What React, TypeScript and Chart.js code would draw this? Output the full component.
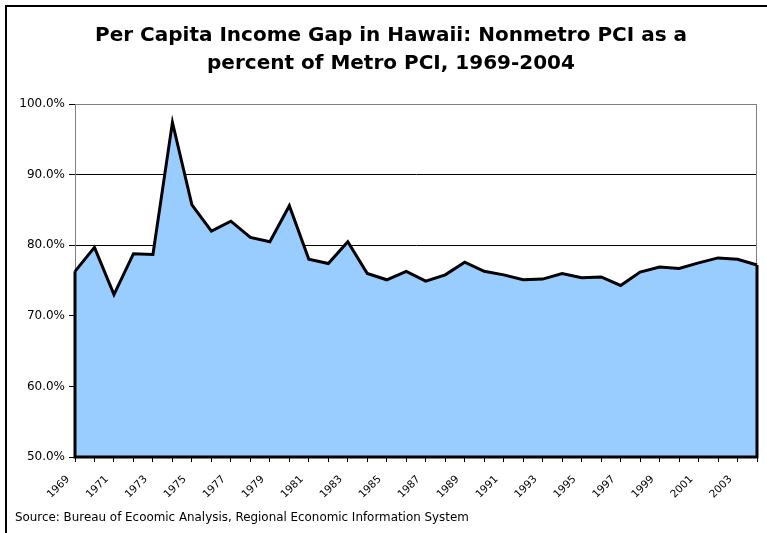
import React, { useEffect, useRef } from "react";
import { Chart, registerables } from "chart.js";

Chart.register(...registerables);

const years: string[] = [
  "1969", "1970", "1971", "1972", "1973", "1974", "1975", "1976", "1977", "1978",
  "1979", "1980", "1981", "1982", "1983", "1984", "1985", "1986", "1987", "1988",
  "1989", "1990", "1991", "1992", "1993", "1994", "1995", "1996", "1997", "1998",
  "1999", "2000", "2001", "2002", "2003", "2004",
];

const gapPct: number[] = [
  76.3, 79.7, 73.0, 78.8, 78.7, 97.4, 85.7, 82.0, 83.4, 81.1,
  80.5, 85.6, 78.0, 77.4, 80.5, 76.0, 75.1, 76.3, 74.9, 75.8,
  77.6, 76.3, 75.8, 75.1, 75.2, 76.0, 75.4, 75.5, 74.3, 76.2,
  76.9, 76.7, 77.5, 78.2, 78.0, 77.2,
];

const titleLines: string[] = [
  "Per Capita Income Gap in Hawaii: Nonmetro PCI as a",
  "percent of Metro PCI, 1969-2004",
];

const sourceText = "Source: Bureau of Ecoomic Analysis, Regional Economic Information System";

const yMin = 50;
const yMax = 100;
const yStep = 10;

const areaOutline = {
  id: "areaOutline",
  beforeDatasetsDraw(chart: any) {
    const { ctx, chartArea } = chart;
    ctx.save();
    ctx.strokeStyle = "#808080";
    ctx.lineWidth = 1;
    ctx.strokeRect(chartArea.left + 0.5, chartArea.top + 0.5, chartArea.right - chartArea.left - 1, chartArea.bottom - chartArea.top);
    ctx.restore();
  },
  afterDatasetsDraw(chart: any) {
    const { ctx, chartArea } = chart;
    const pts = chart.getDatasetMeta(0).data;
    if (!pts.length) return;
    const first = pts[0];
    const last = pts[pts.length - 1];
    ctx.save();
    ctx.strokeStyle = "#000";
    ctx.lineWidth = 3;
    ctx.lineJoin = "miter";
    ctx.beginPath();
    ctx.moveTo(last.x, last.y);
    ctx.lineTo(last.x, chartArea.bottom);
    ctx.lineTo(first.x, chartArea.bottom);
    ctx.lineTo(first.x, first.y);
    ctx.stroke();
    ctx.restore();
  },
};

export default function App() {
  const canvasRef = useRef<HTMLCanvasElement | null>(null);

  useEffect(() => {
    document.body.style.margin = "0";
    const canvas = canvasRef.current;
    if (!canvas) return;
    const chart = new Chart(canvas, {
      type: "line",
      data: {
        labels: years,
        datasets: [
          {
            data: gapPct,
            borderColor: "#000",
            borderWidth: 3,
            backgroundColor: "#99CCFF",
            fill: "start",
            pointRadius: 0,
            tension: 0,
            borderJoinStyle: "miter",
          },
        ],
      },
      options: {
        animation: false,
        responsive: false,
        devicePixelRatio: 1,
        layout: { padding: { left: 8, right: 10, top: 104, bottom: 0 } },
        plugins: {
          legend: { display: false },
          tooltip: { enabled: false },
          title: { display: false },
        },
        scales: {
          x: {
            offset: false,
            grid: {
              drawOnChartArea: false,
              drawTicks: true,
              tickLength: 5,
              color: "#000",
              tickColor: "#000",
            },
            border: { display: true, color: "#000", width: 1 },
            ticks: {
              autoSkip: false,
              maxRotation: 45,
              minRotation: 45,
              padding: 4,
              color: "#000",
              font: { family: "'DejaVu Sans'", size: 10.5 },
              callback: (_v: any, i: number) => (i % 2 === 0 ? years[i] + "   " : ""),
            },
            afterFit: (scale: any) => {
              scale.height = 76;
              scale.paddingLeft = 0;
              scale.paddingRight = 0;
            },
          },
          y: {
            min: yMin,
            max: yMax,
            grid: {
              color: (c: any) => (c.tick && c.tick.value === yMax ? "#808080" : "#000"),
              tickColor: "#000",
              tickLength: 6,
            },
            border: { display: true, color: "#808080", width: 1 },
            ticks: {
              stepSize: yStep,
              padding: 4,
              color: "#000",
              font: { family: "'DejaVu Sans'", size: 12 },
              callback: (v: any) => Number(v).toFixed(1) + "%",
            },
            afterFit: (scale: any) => {
              scale.width = 67;
            },
          },
        },
      },
      plugins: [areaOutline],
    });
    return () => chart.destroy();
  }, []);

  return (
    <div style={{ position: "absolute", left: 0, top: 0, width: 767, height: 533, background: "#fff", overflow: "hidden" }}>
      <canvas ref={canvasRef} width={767} height={533} style={{ position: "absolute", left: 0, top: 0 }} />
      <div
        style={{
          position: "absolute",
          left: 5,
          top: 5,
          width: 800,
          height: 600,
          borderLeft: "2px solid #000",
          borderTop: "2px solid #000",
          pointerEvents: "none",
        }}
      />
      <div
        style={{
          position: "absolute",
          left: 0,
          top: 21,
          width: 782,
          textAlign: "center",
          fontFamily: "'DejaVu Sans'",
          fontWeight: "bold",
          fontSize: 20,
          lineHeight: "27.6px",
          color: "#000",
          whiteSpace: "nowrap",
        }}
      >
        {titleLines.map((t, i) => (
          <div key={i}>{t}</div>
        ))}
      </div>
      <div
        style={{
          position: "absolute",
          left: 15,
          top: 510,
          fontFamily: "'DejaVu Sans'",
          fontSize: 11.9,
          lineHeight: "15px",
          color: "#000",
          whiteSpace: "nowrap",
        }}
      >
        {sourceText}
      </div>
    </div>
  );
}
